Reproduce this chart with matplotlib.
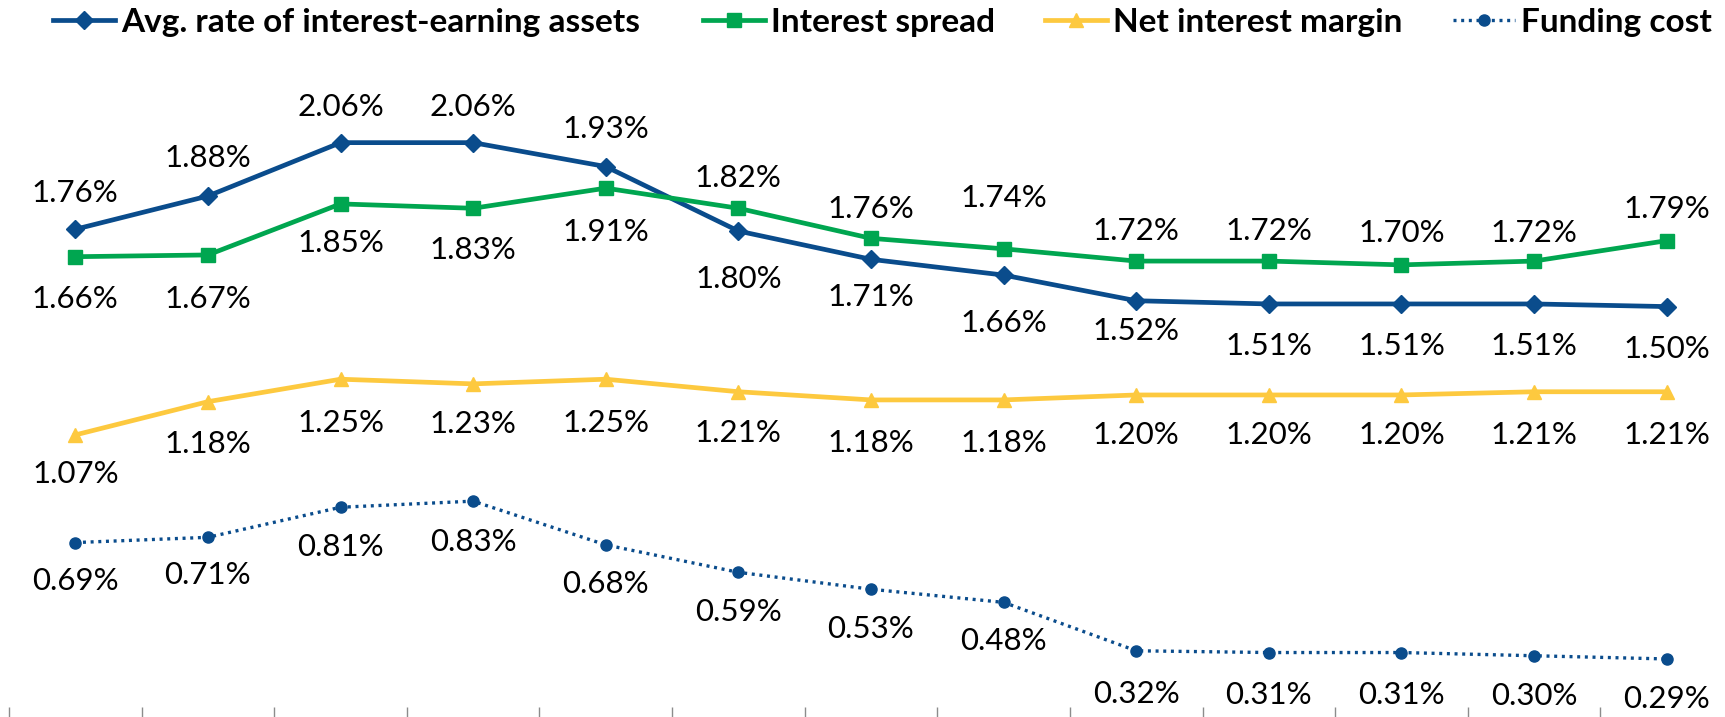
import numpy as np
import matplotlib
matplotlib.use("Agg")
import matplotlib.pyplot as plt
from matplotlib.lines import Line2D

plt.rcParams["font.family"] = ["Lato", "DejaVu Sans"]

# plotted values (%) as drawn in the picture, and the data labels shown
avg_rate = [1.763, 1.877, 2.06, 2.06, 1.978, 1.757, 1.660, 1.606, 1.518, 1.507, 1.507, 1.507, 1.498]
avg_rate_labels = ["1.76%", "1.88%", "2.06%", "2.06%", "1.93%", "1.80%", "1.71%", "1.66%",
                   "1.52%", "1.51%", "1.51%", "1.51%", "1.50%"]

spread = [1.669, 1.675, 1.850, 1.835, 1.904, 1.835, 1.732, 1.696, 1.654, 1.654, 1.641, 1.654, 1.724]
spread_labels = ["1.66%", "1.67%", "1.85%", "1.83%", "1.91%", "1.82%", "1.76%", "1.74%",
                 "1.72%", "1.72%", "1.70%", "1.72%", "1.79%"]

nim = [1.058, 1.172, 1.249, 1.233, 1.249, 1.206, 1.178, 1.178, 1.195, 1.195, 1.195, 1.206, 1.206]
nim_labels = ["1.07%", "1.18%", "1.25%", "1.23%", "1.25%", "1.21%", "1.18%", "1.18%",
              "1.20%", "1.20%", "1.20%", "1.21%", "1.21%"]

funding = [0.689, 0.707, 0.810, 0.831, 0.681, 0.587, 0.529, 0.484, 0.318, 0.312, 0.312, 0.301, 0.290]
funding_labels = ["0.69%", "0.71%", "0.81%", "0.83%", "0.68%", "0.59%", "0.53%", "0.48%",
                  "0.32%", "0.31%", "0.31%", "0.30%", "0.29%"]

# label offsets from the point, in pixels (+ above, - below)
avg_off = [36, 38, 36, 36, 38, -48, -38, -48, -30, -42, -42, -42, -42]
spread_off = [-42, -44, -39, -42, -44, 30, 29, 51, 30, 30, 32, 28, 32]
nim_off = [-39, -42, -44, -40, -44, -41, -43, -43, -40, -40, -40, -43, -43]
funding_off = [-38, -38, -40, -41, -39, -40, -40, -39, -43, -42, -42, -40, -40]

BLUE = "#0A4C8C"
GREEN = "#00A650"
YELLOW = "#FDC93F"

x = np.arange(len(avg_rate))
n = len(x)

fig = plt.figure(figsize=(17.25, 7.17), dpi=100)
ax = fig.add_axes([9 / 1725, 0, 1724 / 1725, 1])
ax.set_xlim(-0.5, n - 0.5)
ax.set_ylim(0.091, 2.549)

avg_style = dict(color=BLUE, lw=3.4, marker="D", ms=9)
spread_style = dict(color=GREEN, lw=3.4, marker="s", ms=10)
nim_style = dict(color=YELLOW, lw=3.4, marker="^", ms=10)
funding_style = dict(color=BLUE, lw=2.4, ls=(0, (0.9, 1.4)), marker="o", ms=8)

ax.plot(x, avg_rate, zorder=3, **avg_style)
ax.plot(x, spread, zorder=3, **spread_style)
ax.plot(x, nim, zorder=3, **nim_style)
ax.plot(x, funding, zorder=3, **funding_style)

PX = 0.72  # points per pixel


def put_labels(vals, labels, offsets):
    for xi, v, lab, off in zip(x, vals, labels, offsets):
        ax.annotate(lab, (xi, v), xytext=(0, off * PX), textcoords="offset points",
                    ha="center", va="center", fontsize=22.5, color="black")


put_labels(avg_rate, avg_rate_labels, avg_off)
put_labels(spread, spread_labels, spread_off)
put_labels(nim, nim_labels, nim_off)
put_labels(funding, funding_labels, funding_off)

# category axis: only the tick marks between categories are visible
for s in ["top", "right", "left", "bottom"]:
    ax.spines[s].set_visible(False)
ax.set_yticks([])
ax.set_xticks(np.arange(-0.5, n, 1.0))
ax.set_xticklabels([])
ax.tick_params(axis="x", direction="in", length=7, width=1, color="#8C8C8C")

# legend entries, each placed where it sits in the original
names = ["Avg. rate of interest-earning assets", "Interest spread",
         "Net interest margin", "Funding cost"]
styles = [avg_style, spread_style, nim_style, funding_style]
starts = [53 / 1725, 703 / 1725, 1045 / 1725, 1453 / 1725]
for name, st, x0 in zip(names, styles, starts):
    h = Line2D([], [], **st)
    fig.legend([h], [name], loc="center left", bbox_to_anchor=(x0, 0.969),
               frameon=False, handlelength=1.85, handletextpad=0.2,
               borderpad=0, borderaxespad=0,
               prop={"weight": "bold", "size": 24})

fig.savefig("out.png", dpi=100)
